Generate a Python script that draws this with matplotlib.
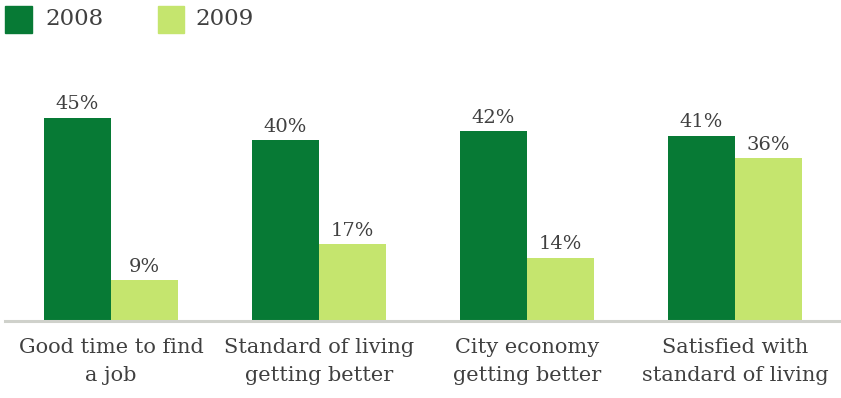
import numpy as np
import matplotlib.pyplot as plt
from matplotlib.patches import Rectangle

categories = ["Good time to find\na job", "Standard of living\ngetting better",
              "City economy\ngetting better", "Satisfied with\nstandard of living"]
values_2008 = [45, 40, 42, 41]
values_2009 = [9, 17, 14, 36]

dark = "#077a35"
light = "#c5e56e"
text_color = "#404040"
font = "DejaVu Serif"

fig = plt.figure(figsize=(8.41, 3.98), dpi=100)
W, H = 841, 398

# axes: baseline at 321 px from top, starting 5 px from the left edge
ax = fig.add_axes([5 / W, 77 / H, 836 / W, 271 / H])
x = np.arange(len(categories))
bw = 0.3245
ax.set_xlim((5 - 111) / 208, (841 - 111) / 208)
ax.set_ylim(0, 60)

ax.bar(x - bw / 2, values_2008, bw, color=dark, linewidth=0)
ax.bar(x + bw / 2, values_2009, bw, color=light, linewidth=0)

for xi, v in zip(x, values_2008):
    ax.text(xi - bw / 2, v + 1.0, f"{v}%", ha="center", va="bottom",
            fontsize=14, family=font, color=text_color)
for xi, v in zip(x, values_2009):
    ax.text(xi + bw / 2, v + 1.0, f"{v}%", ha="center", va="bottom",
            fontsize=14, family=font, color=text_color)

for s in ["top", "left", "right"]:
    ax.spines[s].set_visible(False)
ax.spines["bottom"].set_color("#cfd1cb")
ax.spines["bottom"].set_linewidth(2.2)
ax.set_yticks([])
ax.set_xticks(x)
ax.set_xticklabels(categories, family=font, fontsize=15, color=text_color,
                   linespacing=1.6)
ax.tick_params(axis="x", length=0, pad=12)

# legend boxes along the top edge
fig.patches.append(Rectangle((5 / W, 1 - 33 / H), 27 / W, 27 / H,
                             transform=fig.transFigure, color=dark))
fig.patches.append(Rectangle((158 / W, 1 - 33 / H), 26 / W, 27 / H,
                             transform=fig.transFigure, color=light))
fig.text(45 / W, 1 - 19 / H, "2008", family=font, fontsize=16.5,
         color=text_color, va="center", ha="left")
fig.text(195 / W, 1 - 19 / H, "2009", family=font, fontsize=16.5,
         color=text_color, va="center", ha="left")

fig.savefig("out.png", dpi=100)
